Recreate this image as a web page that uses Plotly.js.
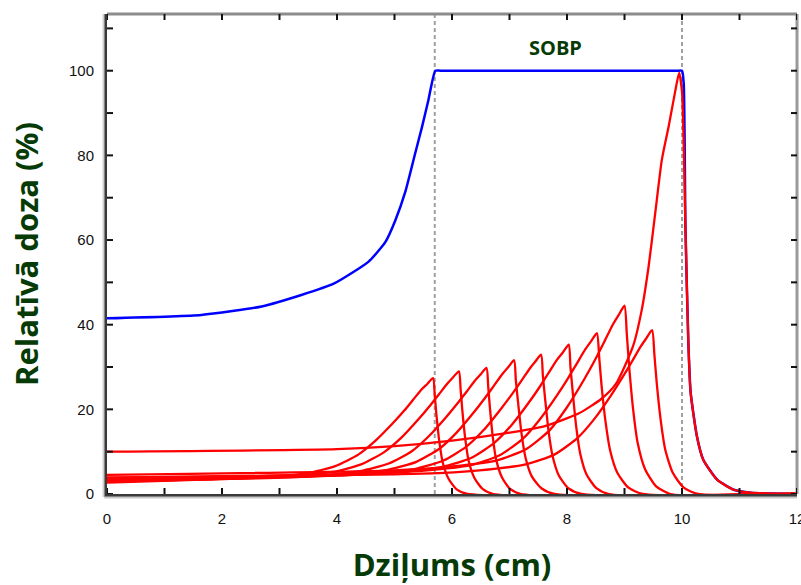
<!DOCTYPE html>
<html>
<head>
<meta charset="utf-8">
<script src="https://cdn.plot.ly/plotly-3.0.1.min.js"></script>
<style>html,body{margin:0;padding:0;background:#fff;}#chart{width:801px;height:585px;}</style>
</head>
<body>
<div id="chart"></div>
<script>
// ---- Data ----
const sobpX = [0, 1.64, 2.69, 3.38, 3.96, 4.55, 4.84, 5.01, 5.19, 5.36, 5.48, 5.59, 5.71, 5.8, 6.5, 7.5, 8.5, 9.5, 9.92, 10.0, 10.03, 10.06, 10.11, 10.15, 10.26, 10.37, 10.61, 10.9, 11.2, 12];
const sobpY = [41.5, 42.3, 44.3, 47.0, 49.8, 54.9, 59.5, 64.5, 71.5, 80.5, 86.8, 93.1, 100, 100, 100, 100, 100, 100, 100, 100, 97, 63, 36, 24, 13.6, 8.1, 3.4, 1.0, 0.3, 0];

const peak1X = [0, 1.67, 2.67, 3.47, 3.97, 4.37, 4.67, 4.97, 5.17, 5.32, 5.47, 5.57, 5.67, 5.70, 5.73, 5.78, 5.84, 5.94, 6.08, 6.27, 12];
const peak1Y = [2.7, 3.4, 4.0, 4.9, 6.6, 9.3, 12.6, 16.7, 19.7, 22.2, 24.7, 26.0, 27.4, 23.3, 18.6, 12.3, 7.4, 3.6, 1.1, 0, 0];
const peak2X = [0, 2.12, 3.12, 3.92, 4.42, 4.82, 5.12, 5.42, 5.62, 5.77, 5.92, 6.02, 6.12, 6.15, 6.18, 6.23, 6.29, 6.39, 6.53, 6.72, 12];
const peak2Y = [2.9, 3.6, 4.2, 5.2, 7.0, 9.9, 13.3, 17.7, 20.9, 23.5, 26.1, 27.6, 29.0, 24.7, 19.7, 13.1, 7.8, 3.8, 1.2, 0, 0];
const peak3X = [0, 2.6, 3.6, 4.4, 4.9, 5.3, 5.6, 5.9, 6.1, 6.25, 6.4, 6.5, 6.6, 6.63, 6.66, 6.71, 6.77, 6.87, 7.01, 7.2, 12];
const peak3Y = [3.0, 3.7, 4.3, 5.4, 7.2, 10.1, 13.7, 18.2, 21.5, 24.1, 26.8, 28.3, 29.8, 25.3, 20.3, 13.4, 8.0, 3.9, 1.2, 0, 0];
const peak4X = [0, 3.08, 4.08, 4.88, 5.38, 5.78, 6.08, 6.38, 6.58, 6.73, 6.88, 6.98, 7.08, 7.11, 7.15, 7.21, 7.28, 7.39, 7.56, 7.78, 12];
const peak4Y = [3.2, 4.0, 4.6, 5.7, 7.6, 10.7, 14.5, 19.3, 22.8, 25.6, 28.4, 30.0, 31.6, 26.9, 21.5, 14.2, 8.5, 4.1, 1.3, 0, 0];
const peak5X = [0, 3.55, 4.55, 5.35, 5.85, 6.25, 6.55, 6.85, 7.05, 7.2, 7.35, 7.45, 7.55, 7.58, 7.62, 7.68, 7.75, 7.86, 8.03, 8.25, 12];
const peak5Y = [3.3, 4.1, 4.8, 5.9, 7.9, 11.2, 15.1, 20.1, 23.7, 26.6, 29.6, 31.3, 32.9, 28.0, 22.4, 14.8, 8.9, 4.3, 1.3, 0, 0];
const peak6X = [0, 4.03, 5.03, 5.83, 6.33, 6.73, 7.03, 7.33, 7.53, 7.68, 7.83, 7.93, 8.03, 8.06, 8.10, 8.16, 8.23, 8.34, 8.51, 8.73, 12];
const peak6Y = [3.5, 4.4, 5.1, 6.4, 8.5, 12.0, 16.2, 21.5, 25.4, 28.6, 31.8, 33.5, 35.3, 30.0, 24.0, 15.9, 9.5, 4.6, 1.4, 0, 0];
const peak7X = [0, 4.52, 5.52, 6.32, 6.82, 7.22, 7.52, 7.82, 8.02, 8.17, 8.32, 8.42, 8.52, 8.56, 8.60, 8.67, 8.75, 8.88, 9.07, 9.32, 12];
const peak7Y = [3.8, 4.8, 5.5, 6.8, 9.1, 12.9, 17.5, 23.2, 27.4, 30.8, 34.2, 36.1, 38.0, 32.3, 25.8, 17.1, 10.3, 4.9, 1.5, 0, 0];
const peak8X = [0, 5.0, 6.0, 6.8, 7.3, 7.7, 8.0, 8.3, 8.5, 8.65, 8.8, 8.9, 9.0, 9.04, 9.08, 9.15, 9.23, 9.36, 9.55, 9.8, 12];
const peak8Y = [4.5, 5.6, 6.5, 8.0, 10.7, 15.1, 20.5, 27.1, 32.0, 36.0, 40.1, 42.3, 44.5, 37.8, 30.3, 20.0, 12.0, 5.8, 1.8, 0, 0];
const peak9X = [0, 5.48, 6.48, 7.28, 7.78, 8.18, 8.48, 8.78, 8.98, 9.13, 9.28, 9.38, 9.48, 9.52, 9.56, 9.63, 9.71, 9.84, 10.03, 10.28, 12];
const peak9Y = [3.9, 4.8, 5.6, 7.0, 9.3, 13.2, 17.8, 23.6, 27.9, 31.3, 34.8, 36.8, 38.7, 32.9, 26.3, 17.4, 10.4, 5.0, 1.5, 0, 0];
const peak10X = [0, 4, 5, 6, 7, 7.6, 8.2, 8.6, 8.85, 9.15, 9.3, 9.42, 9.54, 9.65, 9.77, 9.88, 9.95, 10.0, 10.06, 10.11, 10.15, 10.26, 10.37, 10.61, 10.9, 11.2, 12];
const peak10Y = [10, 10.6, 11.3, 12.6, 14.5, 16, 19, 22.5, 26, 35, 43.5, 53.8, 67, 79, 87, 95, 99.5, 95, 63, 36, 24, 13.6, 8.1, 3.4, 1.0, 0.3, 0];

// tick positions (every unit / every 10 %) and their labels ('' = unlabelled tick)
const xTickVals = [0, 1, 2, 3, 4, 5, 6, 7, 8, 9, 10, 11, 12];
const xTickText = ['0', '', '2', '', '4', '', '6', '', '8', '', '10', '', '12'];
const yTickVals = [0, 10, 20, 30, 40, 50, 60, 70, 80, 90, 100, 110];
const yTickText = ['0', '', '20', '', '40', '', '60', '', '80', '', '100', ''];
const sobpEdges = [5.7, 10.0];
const sobpLabel = 'SOBP';
const xTitle = 'Dziļums (cm)';
const yTitle = 'Relatīvā doza (%)';

// ---- Build traces ----
const peaks = [
  [peak1X, peak1Y], [peak2X, peak2Y], [peak3X, peak3Y], [peak4X, peak4Y], [peak5X, peak5Y],
  [peak6X, peak6Y], [peak7X, peak7Y], [peak8X, peak8Y], [peak9X, peak9Y], [peak10X, peak10Y]
];
const traces = [{
  x: sobpX, y: sobpY, type: 'scatter', mode: 'lines',
  line: {color: '#0000ff', width: 2.5, shape: 'spline', smoothing: 0.5}, hoverinfo: 'skip'
}];
peaks.forEach(p => traces.push({
  x: p[0], y: p[1], type: 'scatter', mode: 'lines',
  line: {color: '#ff0000', width: 2.3, shape: 'spline', smoothing: 0.6}, hoverinfo: 'skip'
}));

const green = '#063a06';
const shapes = sobpEdges.map(v => ({
  type: 'line', xref: 'x', yref: 'paper', x0: v, x1: v, y0: 0, y1: 1,
  line: {color: '#a0a0a0', width: 2, dash: '4px,3px'}, layer: 'below'
}));
// lighter grey top / right frame, light shadow next to left / bottom frame
shapes.push({type: 'line', xref: 'paper', yref: 'paper', x0: 0, x1: 1, y0: 1, y1: 1,
  line: {color: '#8c8c8c', width: 3}, layer: 'above'});
shapes.push({type: 'line', xref: 'paper', yref: 'paper', x0: 1, x1: 1, y0: 0, y1: 1,
  line: {color: '#9a9a9a', width: 3}, layer: 'above'});
shapes.push({type: 'line', xref: 'paper', yref: 'paper', xsizemode: 'pixel', xanchor: 0, x0: -3.5, x1: -3.5, y0: -0.006, y1: 1,
  line: {color: '#d0d0d0', width: 2}, layer: 'above'});
shapes.push({type: 'line', xref: 'paper', yref: 'paper', ysizemode: 'pixel', yanchor: 0, y0: -3.5, y1: -3.5, x0: -0.004, x1: 1,
  line: {color: '#c8c8c8', width: 2}, layer: 'above'});
// inward tick marks on all four sides, placed through the axes at the tick values
const tickLen = 6;
xTickVals.forEach(v => {
  shapes.push({type: 'line', xref: 'x', x0: v, x1: v, yref: 'paper', ysizemode: 'pixel', yanchor: 0, y0: 0, y1: tickLen,
    line: {color: '#111', width: 2}, layer: 'above'});
  shapes.push({type: 'line', xref: 'x', x0: v, x1: v, yref: 'paper', ysizemode: 'pixel', yanchor: 1, y0: 0, y1: -tickLen,
    line: {color: '#111', width: 2}, layer: 'above'});
});
yTickVals.forEach(v => {
  shapes.push({type: 'line', yref: 'y', y0: v, y1: v, xref: 'paper', xsizemode: 'pixel', xanchor: 0, x0: 0, x1: tickLen,
    line: {color: '#111', width: 2}, layer: 'above'});
  shapes.push({type: 'line', yref: 'y', y0: v, y1: v, xref: 'paper', xsizemode: 'pixel', xanchor: 1, x0: 0, x1: -tickLen,
    line: {color: '#111', width: 2}, layer: 'above'});
});

const tickFont = {family: 'Liberation Sans, Arial, sans-serif', size: 15, color: '#111'};
const titleFont = {family: 'Open Sans, sans-serif', size: 31, color: green, weight: 'bold'};

function axisStyle(extra) {
  return Object.assign({
    tickmode: 'array', ticks: '', showticklabels: true, showgrid: false, zeroline: false,
    showline: true, linecolor: '#3a3a3a', linewidth: 3,
    tickfont: tickFont, ticklabeloverflow: 'allow'
  }, extra);
}

const layout = {
  width: 801, height: 585,
  margin: {l: 107, r: 4, t: 14, b: 91},
  paper_bgcolor: '#ffffff', plot_bgcolor: '#ffffff',
  showlegend: false,
  xaxis: axisStyle({
    range: [0, 12], tickvals: xTickVals, ticktext: xTickText, ticklabelstandoff: 9,
    title: {text: xTitle, font: titleFont, standoff: 30}
  }),
  yaxis: axisStyle({
    range: [0, 113.4], tickvals: yTickVals, ticktext: yTickText, ticklabelstandoff: 7,
    title: {text: yTitle, font: titleFont, standoff: 22}
  }),
  shapes: shapes,
  annotations: [{
    x: 7.8, y: 105.6, xref: 'x', yref: 'y',
    text: '<b>' + sobpLabel + '</b>', showarrow: false,
    font: {family: 'Open Sans, sans-serif', size: 20, color: green}
  }]
};

Plotly.newPlot('chart', traces, layout, {staticPlot: true, displayModeBar: false});
</script>
</body>
</html>
